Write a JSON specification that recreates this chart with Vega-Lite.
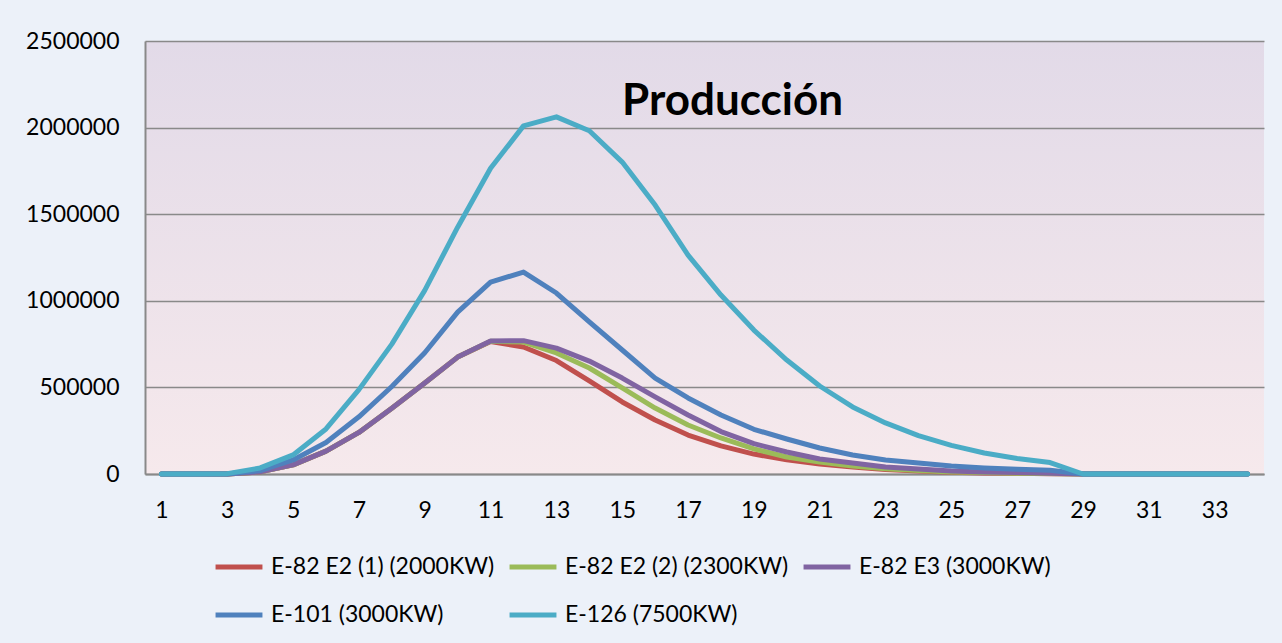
{
  "$schema": "https://vega.github.io/schema/vega-lite/v6.json",
  "width": 1119,
  "height": 433,
  "autosize": {"type": "none"},
  "padding": {"left": 145, "top": 41, "right": 18, "bottom": 169},
  "background": "#ecf1f9",
  "title": {
    "text": "Producción",
    "font": "Lato",
    "fontSize": 44,
    "fontWeight": "bold",
    "color": "#000000",
    "anchor": "middle",
    "frame": "group",
    "orient": "top",
    "offset": 0,
    "baseline": "alphabetic",
    "dx": 28,
    "dy": 129
  },
  "data": {
    "values": [
      {"x": 1, "a": 0, "b": 0, "c": 0, "d": 0, "e": 0},
      {"x": 2, "a": 0, "b": 0, "c": 0, "d": 0, "e": 0},
      {"x": 3, "a": 0, "b": 0, "c": 0, "d": 0, "e": 2000},
      {"x": 4, "a": 12000, "b": 12000, "c": 12000, "d": 20000, "e": 35000},
      {"x": 5, "a": 53000, "b": 53000, "c": 53000, "d": 81000, "e": 110000},
      {"x": 6, "a": 132000, "b": 132000, "c": 132000, "d": 182000, "e": 260000},
      {"x": 7, "a": 240000, "b": 240000, "c": 240000, "d": 330000, "e": 487000},
      {"x": 8, "a": 380000, "b": 380000, "c": 380000, "d": 505000, "e": 750000},
      {"x": 9, "a": 525000, "b": 525000, "c": 525000, "d": 700000, "e": 1060000},
      {"x": 10, "a": 675000, "b": 675000, "c": 675000, "d": 935000, "e": 1425000},
      {"x": 11, "a": 765000, "b": 766000, "c": 768000, "d": 1108000, "e": 1765000},
      {"x": 12, "a": 733000, "b": 762000, "c": 770000, "d": 1166000, "e": 2010000},
      {"x": 13, "a": 655000, "b": 699000, "c": 727000, "d": 1045000, "e": 2062000},
      {"x": 14, "a": 537000, "b": 612000, "c": 652000, "d": 878000, "e": 1982000},
      {"x": 15, "a": 416000, "b": 497000, "c": 554000, "d": 716000, "e": 1801000},
      {"x": 16, "a": 312000, "b": 381000, "c": 445000, "d": 554000, "e": 1553000},
      {"x": 17, "a": 225000, "b": 283000, "c": 341000, "d": 439000, "e": 1264000},
      {"x": 18, "a": 162000, "b": 208000, "c": 245000, "d": 341000, "e": 1033000},
      {"x": 19, "a": 115000, "b": 145000, "c": 175000, "d": 258000, "e": 831000},
      {"x": 20, "a": 82000, "b": 98000, "c": 127000, "d": 202000, "e": 658000},
      {"x": 21, "a": 58000, "b": 69000, "c": 87000, "d": 150000, "e": 508000},
      {"x": 22, "a": 40000, "b": 46000, "c": 63000, "d": 110000, "e": 387000},
      {"x": 23, "a": 26000, "b": 30000, "c": 40000, "d": 81000, "e": 295000},
      {"x": 24, "a": 17000, "b": 20000, "c": 29000, "d": 63000, "e": 222000},
      {"x": 25, "a": 10000, "b": 12000, "c": 17000, "d": 46000, "e": 165000},
      {"x": 26, "a": 6000, "b": 8000, "c": 12000, "d": 35000, "e": 121000},
      {"x": 27, "a": 4000, "b": 5000, "c": 8000, "d": 28000, "e": 90000},
      {"x": 28, "a": 2000, "b": 3000, "c": 5000, "d": 22000, "e": 66000},
      {"x": 29, "a": 0, "b": 0, "c": 0, "d": 0, "e": 0},
      {"x": 30, "a": 0, "b": 0, "c": 0, "d": 0, "e": 0},
      {"x": 31, "a": 0, "b": 0, "c": 0, "d": 0, "e": 0},
      {"x": 32, "a": 0, "b": 0, "c": 0, "d": 0, "e": 0},
      {"x": 33, "a": 0, "b": 0, "c": 0, "d": 0, "e": 0},
      {"x": 34, "a": 0, "b": 0, "c": 0, "d": 0, "e": 0}
    ]
  },
  "transform": [
    {"fold": ["a", "b", "c", "d", "e"], "as": ["k", "v"]},
    {"lookup": "k", "from": {"data": {"values": [
      {"k": "a", "serie": "E-82 E2 (1) (2000KW)"},
      {"k": "b", "serie": "E-82 E2 (2) (2300KW)"},
      {"k": "c", "serie": "E-82 E3 (3000KW)"},
      {"k": "d", "serie": "E-101 (3000KW)"},
      {"k": "e", "serie": "E-126 (7500KW)"}
    ]}, "key": "k", "fields": ["serie"]}}
  ],
  "mark": {"type": "line", "strokeWidth": 5, "strokeCap": "round", "strokeJoin": "round"},
  "encoding": {
    "x": {
      "field": "x",
      "type": "quantitative",
      "scale": {"domain": [0.5, 34.5], "nice": false, "zero": false},
      "axis": {
        "title": null,
        "values": [1, 3, 5, 7, 9, 11, 13, 15, 17, 19, 21, 23, 25, 27, 29, 31, 33],
        "grid": false,
        "ticks": false,
        "domainColor": "#898989",
        "domainWidth": 2,
        "labelFont": "Lato",
        "labelFontSize": 23,
        "labelColor": "#000000",
        "labelPadding": 25,
        "labelFlush": false
      }
    },
    "y": {
      "field": "v",
      "type": "quantitative",
      "scale": {"domain": [0, 2500000], "nice": false},
      "axis": {
        "title": null,
        "values": [0, 500000, 1000000, 1500000, 2000000, 2500000],
        "format": "d",
        "grid": true,
        "gridColor": "#898989",
        "gridWidth": 1.6,
        "ticks": false,
        "domainColor": "#898989",
        "domainWidth": 2,
        "labelFont": "Lato",
        "labelFontSize": 23,
        "labelColor": "#000000",
        "labelPadding": 26,
        "labelFlush": false
      }
    },
    "color": {
      "field": "serie",
      "type": "nominal",
      "scale": {
        "domain": ["E-82 E2 (1) (2000KW)", "E-82 E2 (2) (2300KW)", "E-82 E3 (3000KW)", "E-101 (3000KW)", "E-126 (7500KW)"],
        "range": ["#C0504D", "#9BBB59", "#8064A2", "#4F81BD", "#4BACC6"]
      },
      "legend": {
        "title": null,
        "orient": "none",
        "legendX": 68,
        "legendY": 500,
        "direction": "horizontal",
        "columns": 3,
        "gridAlign": "all",
        "symbolType": "stroke",
        "symbolStrokeWidth": 5,
        "symbolSize": 2200,
        "labelOffset": 6,
        "labelFont": "Lato",
        "labelFontSize": 23,
        "labelColor": "#000000",
        "columnPadding": 4,
        "rowPadding": 10,
        "labelLimit": 400
      }
    }
  },
  "config": {
    "view": {
      "stroke": null,
      "fill": {
        "gradient": "linear",
        "x1": 0, "y1": 0, "x2": 0, "y2": 1,
        "stops": [
          {"offset": 0, "color": "#e2dae8"},
          {"offset": 1, "color": "#f6e9ec"}
        ]
      }
    }
  }
}
